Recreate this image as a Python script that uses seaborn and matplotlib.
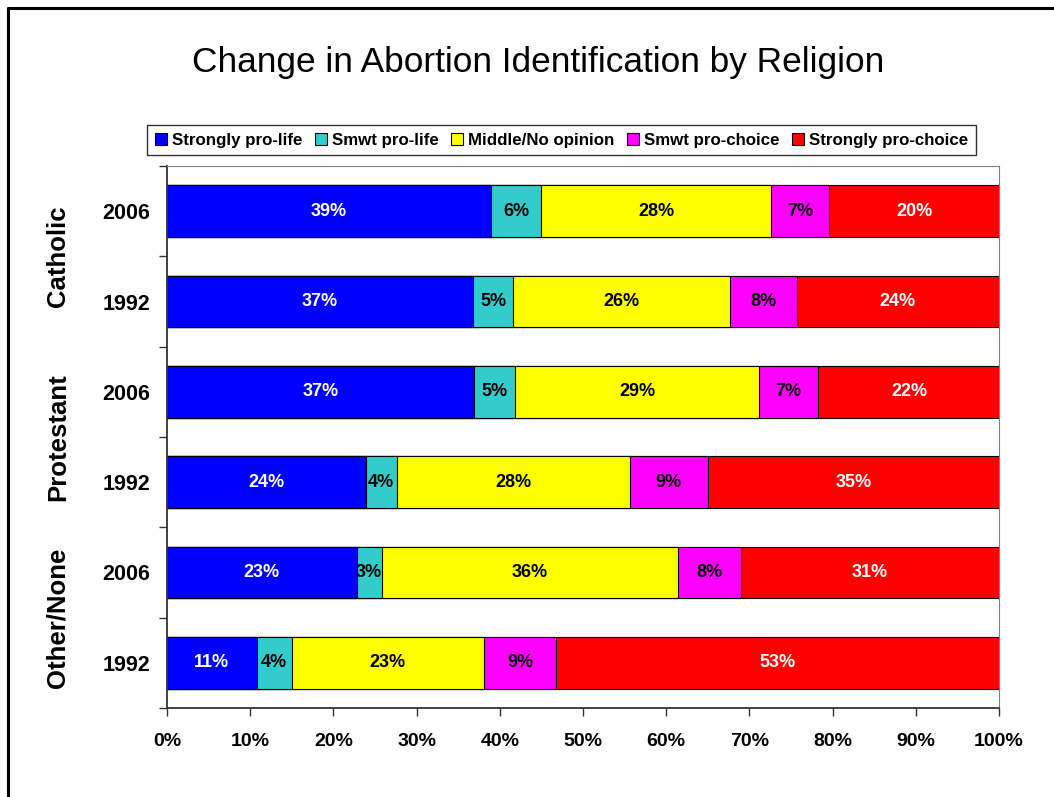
import matplotlib.pyplot as plt
import matplotlib.ticker as mticker
from matplotlib.lines import Line2D
from matplotlib.patches import Patch
from matplotlib.transforms import blended_transform_factory
import numpy as np
import pandas as pd
import seaborn as sns

GROUPS = ["Catholic", "Protestant", "Other/None"]
YEARS = ["2006", "1992"]
CATEGORIES = [
    "Strongly pro-life",
    "Smwt pro-life",
    "Middle/No opinion",
    "Smwt pro-choice",
    "Strongly pro-choice",
]
COLORS = ["#0000FF", "#33CCCC", "#FFFF00", "#FF00FF", "#FF0000"]
TEXT_COLORS = ["white", "black", "black", "black", "white"]

# one value per row: Catholic 2006, Catholic 1992, Protestant 2006, ...
STRONG_LIFE = [38.9, 36.8, 36.9, 23.9, 22.8, 10.8]
SMWT_LIFE = [6.1, 4.8, 4.9, 3.7, 3.0, 4.2]
MIDDLE = [27.6, 26.1, 29.4, 28.0, 35.6, 23.1]
SMWT_CHOICE = [7.0, 8.0, 7.0, 9.4, 7.6, 8.7]
STRONG_CHOICE = [20.4, 24.3, 22.0, 35.0, 31.0, 53.2]

FONT = "Liberation Sans"

sns.set_theme(style="white")
plt.rcParams["font.family"] = [FONT, "DejaVu Sans"]
plt.rcParams["text.color"] = "black"
plt.rcParams["xtick.color"] = "black"
plt.rcParams["ytick.color"] = "black"
plt.rcParams["axes.labelcolor"] = "black"

rows = ["{} {}".format(g, y) for g in GROUPS for y in YEARS]
data = pd.DataFrame(
    {
        "row": rows,
        CATEGORIES[0]: STRONG_LIFE,
        CATEGORIES[1]: SMWT_LIFE,
        CATEGORIES[2]: MIDDLE,
        CATEGORIES[3]: SMWT_CHOICE,
        CATEGORIES[4]: STRONG_CHOICE,
    }
)
values = data[CATEGORIES].to_numpy()
ends = np.cumsum(values, axis=1)
starts = ends - values

fig = plt.figure(figsize=(10.54, 7.97), dpi=100)
ax = fig.add_axes([0.1584, 0.1117, 0.7894, 0.68])

# stacked bars: draw the running totals from the right-most segment back
for i in reversed(range(len(CATEGORIES))):
    sns.barplot(
        x=ends[:, i], y=data["row"], orient="h", color=COLORS[i],
        saturation=1, width=0.57, edgecolor="black", linewidth=0.8, ax=ax,
    )

for r in range(len(rows)):
    for i in range(len(CATEGORIES)):
        ax.text(
            starts[r, i] + values[r, i] / 2, r, "{:.0f}%".format(values[r, i]),
            ha="center", va="center", color=TEXT_COLORS[i],
            fontsize=13, fontweight="bold",
        )

ax.set_xlim(0, 100)
ax.set_ylim(len(rows) - 0.5, -0.5)
ax.set_xlabel("")
ax.set_ylabel("")
ax.xaxis.set_major_locator(mticker.MultipleLocator(10))
ax.xaxis.set_major_formatter(mticker.FuncFormatter(lambda v, p: "{:.0f}%".format(v)))
ax.set_yticks(range(len(rows)))
ax.set_yticklabels(YEARS * len(GROUPS))
ax.set_yticks(np.arange(-0.5, len(rows), 1), minor=True)
ax.tick_params(axis="x", which="major", bottom=True, direction="out", length=6,
               width=1, color="#333333", pad=12, labelsize=14)
ax.tick_params(axis="y", which="major", left=False, pad=6, labelsize=15.5)
ax.tick_params(axis="y", which="minor", left=True, direction="out", length=6,
               width=1, color="#333333")
for lab in ax.get_xticklabels() + ax.get_yticklabels():
    lab.set_fontweight("bold")

for side in ["left", "bottom"]:
    ax.spines[side].set_color("#333333")
    ax.spines[side].set_linewidth(1.3)
for side in ["top", "right"]:
    ax.spines[side].set_color("#808080")
    ax.spines[side].set_linewidth(0.8)

# religion labels next to the year labels
trans = blended_transform_factory(ax.transAxes, ax.transData)
for k, g in enumerate(GROUPS):
    ax.text(-0.131, 2 * k + 0.5, g, transform=trans, rotation=90,
            ha="center", va="center", fontsize=18.5, fontweight="bold")

fig.text(0.511, 0.921, "Change in Abortion Identification by Religion",
         ha="center", va="center", fontsize=25.4)

handles = [Patch(facecolor=c, edgecolor="black", linewidth=0.8) for c in COLORS]
leg = fig.legend(
    handles, CATEGORIES, loc="center", bbox_to_anchor=(0.533, 0.824), ncol=5,
    frameon=True, fancybox=False, handlelength=0.7, handleheight=0.7,
    handletextpad=0.3, columnspacing=0.75, borderpad=0.45,
    prop={"family": FONT, "weight": "bold", "size": 12.2},
)
leg.get_frame().set_edgecolor("black")
leg.get_frame().set_linewidth(1.0)

# outer frame of the slide
fig.add_artist(Line2D([0.0076, 0.0076], [0.0, 0.99], transform=fig.transFigure,
                      color="black", linewidth=2.2))
fig.add_artist(Line2D([0.0076, 1.0], [0.99, 0.99], transform=fig.transFigure,
                      color="black", linewidth=2.2))

fig.savefig("out.png", dpi=100, facecolor="white")
